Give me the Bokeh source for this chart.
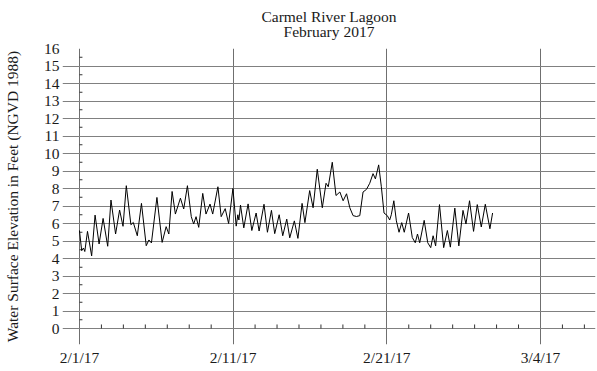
from bokeh.plotting import figure
from bokeh.models import FixedTicker, Title
from bokeh.embed import file_html
from bokeh.resources import INLINE

# Water surface elevation (ft, NGVD 1988); time in days since 2/1/17 00:00
days = [0.00, 0.15, 0.27, 0.36, 0.54, 0.82, 1.05, 1.32, 1.59, 1.90, 2.12, 2.43, 2.70, 2.93,
        3.15, 3.46, 3.62, 3.89, 4.17, 4.49, 4.67, 4.84, 5.21, 5.56, 5.83, 6.01, 6.23, 6.45,
        6.79, 7.01, 7.26, 7.52, 7.68, 7.84, 8.02, 8.29, 8.51, 8.78, 8.96, 9.31, 9.53, 9.80,
        10.03, 10.32,
        10.54, 10.65, 10.72, 10.83, 11.05, 11.34, 11.59, 11.88, 12.08, 12.41, 12.64, 12.91,
        13.13, 13.43, 13.67, 13.94, 14.14, 14.45, 14.69, 14.97, 15.16, 15.48, 15.71, 15.99,
        16.33, 16.58, 16.73, 17.00, 17.25, 17.51, 17.73, 17.96, 18.18, 18.40, 18.63, 18.85,
        19.07, 19.30, 19.52, 19.74, 19.90, 20.12, 20.30, 20.48, 20.70, 20.86, 20.97, 21.14,
        21.31, 21.49, 21.67, 21.84, 22.13, 22.38, 22.58, 22.73, 22.88, 23.18, 23.42, 23.62,
        23.78, 23.95, 24.21, 24.49, 24.74, 24.94, 25.24, 25.51, 25.79, 25.99, 26.23, 26.50,
        26.75, 27.02, 27.29, 27.60, 27.78]
elev = [5.6, 4.45, 4.6, 4.4, 5.55, 4.15, 6.48, 4.83, 6.29, 4.7, 7.34, 5.4, 6.77, 5.84,
        8.16, 5.93, 6.06, 5.3, 7.15, 4.73, 5.06, 4.89, 7.49, 4.92, 5.82, 5.4, 7.83, 6.54,
        7.45, 6.83, 8.16, 6.39, 5.97, 6.39, 5.78, 7.72, 6.54, 7.11, 6.54, 8.1, 6.39, 6.85,
        6.0, 8.0,
        5.85, 6.5, 6.2, 7.05, 5.75, 7.12, 5.6, 6.6, 5.57, 7.1, 5.5, 6.75,
        5.42, 6.5, 5.3, 6.25, 5.18, 6.15, 5.15, 7.15, 6.05, 7.88, 6.9, 9.1,
        6.9, 8.3, 8.1, 9.5, 7.6, 7.8, 7.3, 7.7, 6.9, 6.45, 6.4, 6.45,
        7.8, 7.95, 8.3, 8.85, 8.55, 9.35, 8.1, 6.6, 6.45, 6.2, 6.5, 7.3,
        6.15, 5.5, 6.05, 5.5, 6.6, 5.2, 4.9, 5.4, 4.9, 6.18, 4.9, 4.62,
        5.3, 4.72, 7.08, 4.62, 5.6, 4.65, 6.88, 4.72, 6.75, 5.97, 7.3, 5.55,
        7.08, 5.8, 7.1, 5.7, 6.6]

y_ticks = list(range(0, 17))
x_tick_days = [0, 31 / 3, 62 / 3, 31]
x_tick_labels = ["2/1/17", "2/11/17", "2/21/17", "3/4/17"]
x_minor_per_major = 7

title_lines = ["Carmel River Lagoon", "February 2017"]
y_label = "Water Surface Elevation in Feet (NGVD 1988)"

FONT = "Liberation Serif"
FS = "15.5px"
TXT = "#1a1a1a"

p = figure(width=597, height=371, x_range=(-1.14, 34.7), y_range=(-0.914, 16),
           min_border_left=60, min_border_right=2, min_border_top=48, min_border_bottom=27,
           output_backend="svg", toolbar_location=None)
p.outline_line_color = None
p.title.visible = False

# two-line title
p.add_layout(Title(text="\n".join(title_lines), align="center", text_align="center",
                   vertical_align="top",
                   text_font=FONT, text_font_size=FS, text_line_height=0.9,
                   text_font_style="normal", text_color=TXT, standoff=14, offset=-5), "above")

# grid lines
p.xgrid.ticker = FixedTicker(ticks=x_tick_days)
p.xgrid.grid_line_color = "#6f6f6f"
p.xgrid.grid_line_width = 1
p.ygrid.ticker = FixedTicker(ticks=y_ticks)
p.ygrid.grid_line_color = "#808080"
p.ygrid.grid_line_width = 1

# x axis (labels only)
xa = p.xaxis[0]
xa.ticker = FixedTicker(ticks=x_tick_days)
xa.major_label_overrides = {t: l for t, l in zip(x_tick_days, x_tick_labels)}
xa.axis_line_color = None
xa.major_tick_line_color = None
xa.minor_tick_line_color = None
xa.major_tick_out = 0
xa.major_tick_in = 0
xa.minor_tick_out = 0
xa.major_label_standoff = 4
xa.major_label_text_font = FONT
xa.major_label_text_font_size = FS
xa.major_label_text_color = TXT

# y axis (labels only)
ya = p.yaxis[0]
ya.ticker = FixedTicker(ticks=y_ticks)
ya.axis_line_color = None
ya.major_tick_line_color = None
ya.minor_tick_line_color = None
ya.major_tick_out = 0
ya.major_tick_in = 0
ya.minor_tick_out = 0
ya.major_label_standoff = 3
ya.major_label_text_font = FONT
ya.major_label_text_font_size = FS
ya.major_label_text_color = TXT
ya.axis_label = y_label
ya.axis_label_text_font = FONT
ya.axis_label_text_font_size = FS
ya.axis_label_text_font_style = "normal"
ya.axis_label_text_color = TXT
ya.axis_label_standoff = 20

# minor tick marks drawn at the crossing axes (x=2/1, y=0)
step = x_tick_days[1] / x_minor_per_major
xm = [i * step for i in range(1, 24) if i % x_minor_per_major != 0]
p.segment(x0=xm, y0=[0] * len(xm), x1=xm, y1=[0.23] * len(xm), line_color="#333333", line_width=1)
ym = [t + 0.5 for t in y_ticks[:-1]]
p.segment(x0=[0] * len(ym), y0=ym, x1=[0.2] * len(ym), y1=ym, line_color="#333333", line_width=1)

# data
p.line(days, elev, line_color="black", line_width=1)

open("out.html", "w").write(file_html(p, INLINE))
